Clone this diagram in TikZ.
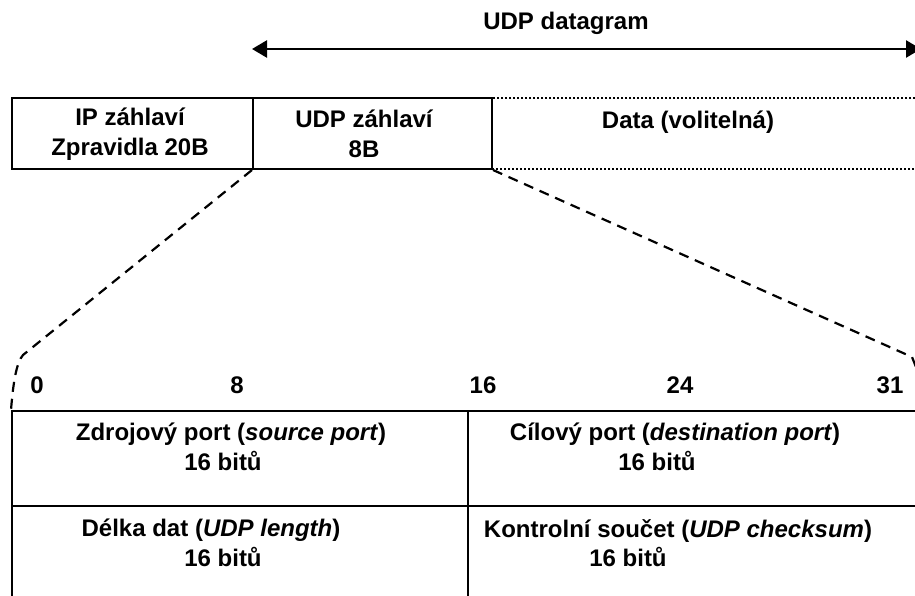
\documentclass[tikz,border=0pt]{standalone}
\usepackage{fontspec}
\setmainfont{Liberation Sans}
\usetikzlibrary{arrows.meta}
\begin{document}
\begin{tikzpicture}[x=1pt,y=1pt,
  lbl/.style={font=\fontsize{24}{29.5}\selectfont\bfseries, align=center, inner sep=0pt},
  solidbox/.style={draw, line width=2pt, inner sep=0pt, anchor=north west},
  dotbox/.style={draw, dotted, line width=2pt, inner sep=0pt, anchor=north west},
  cell/.style={draw, line width=2pt, inner sep=0pt, anchor=north west},
  zoomline/.style={line width=2.2pt, dash pattern=on 10pt off 7pt},
  span/.style={line width=2.5pt, {Triangle[length=15pt,width=17pt]}-{Triangle[length=15pt,width=17pt]}}]
\useasboundingbox (0,0) rectangle (915,-596);

% top structure
\node[dotbox, minimum width=450pt, minimum height=71pt] (data) at (491,-97) {};
\node[solidbox, minimum width=241pt, minimum height=71pt] (ip) at (11,-97) {};
\node[solidbox, minimum width=239pt, minimum height=71pt] (udp) at (252,-97) {};

\node[lbl] (iptext) at (130,-134) {IP záhlaví\\Zpravidla 20B};
\node[lbl] (udptext) at (364,-134) {UDP záhlaví\\8B};
\node[lbl] (datatext) at (688,-122) {Data (volitelná)};

% datagram arrow
\coordinate (arrL) at (252,-49);
\coordinate (arrR) at (921,-49);
\draw[span] (arrL) -- (arrR);
\node[lbl] (dglabel) at (566,-23) {UDP datagram};

% table
\node[cell, minimum width=456pt, minimum height=95pt] (c11) at (11,-410) {};
\node[cell, minimum width=460pt, minimum height=95pt] (c12) at (467,-410) {};
\node[cell, minimum width=456pt, minimum height=100pt] (c21) at (11,-505) {};
\node[cell, minimum width=460pt, minimum height=100pt] (c22) at (467,-505) {};

% bit numbers
\node[lbl] (b0) at (37,-385) {0};
\node[lbl] (b8) at (237,-385) {8};
\node[lbl] (b16) at (483,-385) {16};
\node[lbl] (b24) at (680,-385) {24};
\node[lbl] (b31) at (890,-385) {31};

% cell texts
\node[lbl] (t11) at (231,-447) {Zdrojový port (\textit{source port})\\\hspace*{-16pt}16 bitů};
\node[lbl] (t12) at (675,-447) {Cílový port (\textit{destination port})\\\hspace*{-36pt}16 bitů};
\node[lbl] (t21) at (211,-543) {Délka dat (\textit{UDP length})\\\hspace*{24pt}16 bitů};
\node[lbl] (t22) at (678,-543) {Kontrolní součet (\textit{UDP checksum})\\\hspace*{-100pt}16 bitů};

% zoom lines
\coordinate (lbend) at (23,-355);
\coordinate (rbend) at (912,-357);
\draw[zoomline] (udp.south west) -- (lbend) .. controls (16,-363) and (13,-385) .. (c11.north west);
\draw[zoomline] (udp.south east) -- (rbend) -- (918,-372);
\end{tikzpicture}
\end{document}
